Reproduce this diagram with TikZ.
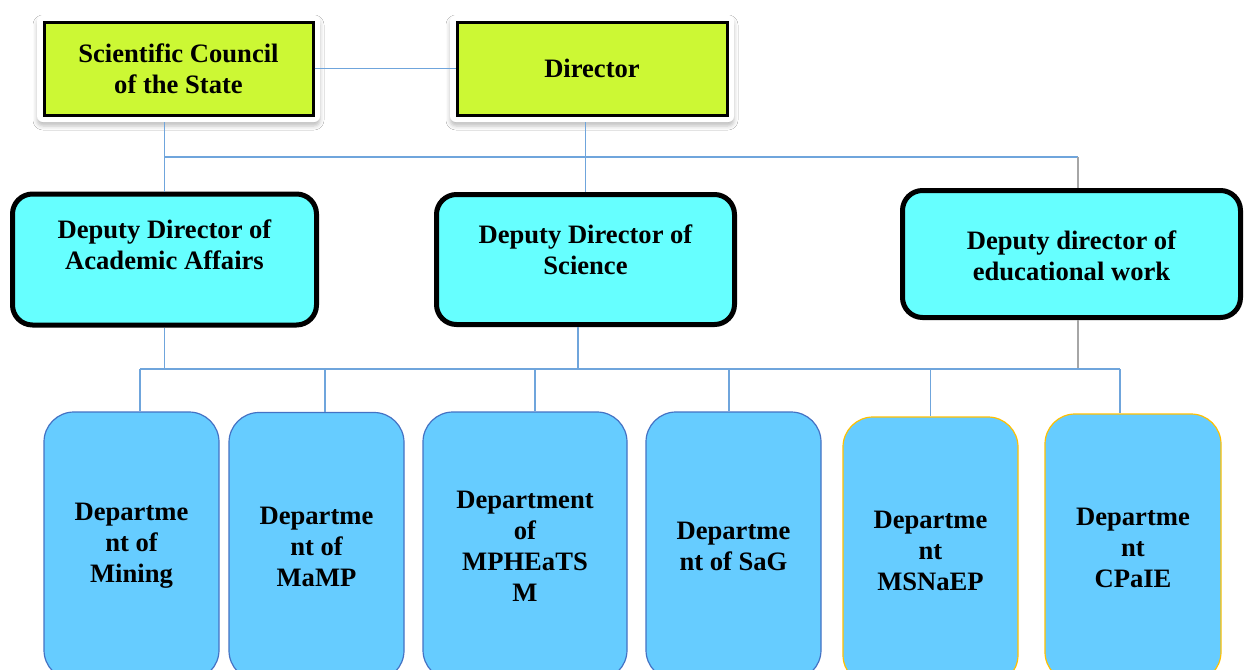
\documentclass[tikz,border=0pt]{standalone}
\usepackage{fontspec}
\setmainfont{Liberation Serif}
\usepackage{xcolor}
\usepackage{tikz}
\usetikzlibrary{shapes,arrows,positioning}
\usetikzlibrary{fit}
\usetikzlibrary{calc}
\usetikzlibrary{backgrounds,shadows.blur}
\definecolor{boardgreen}{RGB}{204,248,52}
\definecolor{deputycyan}{RGB}{102,255,255}
\definecolor{deptblue}{RGB}{102,204,255}
\definecolor{deptedge}{RGB}{68,114,196}
\definecolor{deptgold}{RGB}{255,192,0}
\definecolor{linkblue}{RGB}{111,165,220}
\definecolor{linkgrey}{RGB}{166,166,166}
\tikzstyle{head} = [rectangle, draw=black, line width=1.5pt, fill=boardgreen,
    minimum width=134.5pt, minimum height=46.5pt, align=center,
    font=\fontsize{13.3}{15.5}\selectfont\bfseries]
\tikzstyle{headframe} = [rectangle, fill=white, rounded corners=3pt, inner sep=2.75pt,
    blur shadow={shadow xshift=0pt, shadow yshift=-2pt, shadow blur radius=2pt, shadow opacity=25}]
\tikzstyle{deputy} = [rectangle, draw=black, line width=2.5pt, fill=deputycyan,
    rounded corners=10pt]
\tikzstyle{deputytext} = [align=center, font=\fontsize{13.3}{15.5}\selectfont\bfseries]
\tikzstyle{dept} = [rectangle, draw=deptedge, line width=0.6pt, fill=deptblue,
    rounded corners=15pt, minimum width=87.5pt, minimum height=134pt, align=center,
    font=\fontsize{13.3}{15.5}\selectfont\bfseries]
\tikzstyle{line} = [draw, linkblue, line width=0.75pt]

\begin{document}
\begin{tikzpicture}[x=0.5pt, y=-0.5pt]
        \useasboundingbox (0,0) rectangle (1244,670);
        \clip (0,0) rectangle (1244,670);

        % Top level
        \node [head] (council) at (178.5,68.5) {Scientific Council\\of the State};
        \node [head, minimum width=135pt] (director) at (592,68.5) {Director};
        \begin{scope}[on background layer]
            \fill [white] (0,0) rectangle (1244,670);
            \node [headframe, fit=(council)] (councilframe) {};
            \node [headframe, fit=(director)] (directorframe) {};
        \end{scope}

        % Deputies
        \node [deputy, minimum width=152pt, minimum height=65.5pt,
            label={[deputytext, name=academictext, yshift=7.5pt]center:Deputy Director of\\Academic Affairs}] (academic) at (164.5,259.5) {};
        \node [deputy, minimum width=149pt, minimum height=65pt,
            label={[deputytext, name=sciencetext, yshift=5pt]center:Deputy Director of\\Science}] (science) at (585.5,259.5) {};
        \node [deputy, minimum width=169pt, minimum height=63.5pt,
            label={[deputytext, name=educationtext, yshift=-1pt]center:Deputy director of\\educational work}] (education) at (1071.5,254) {};

        % Departments
        \node [dept] (mining) at (131.5,546) {Departme\\nt of\\Mining};
        \node [dept] (mamp) at (316.5,546.5) {Departme\\nt of\\MaMP};
        \node [dept, minimum width=102pt] (mpheatsm) at (525,546) {Department\\of\\MPHEaTS\\M};
        \node [dept] (sag) at (733.5,546) {Departme\\nt of SaG};
        \node [dept, draw=deptgold] (msnaep) at (930.5,551) {Departme\\nt\\MSNaEP};
        \node [dept, draw=deptgold, minimum width=88pt] (cpaie) at (1133,548) {Departme\\nt\\CPaIE};

        % Connections
        \coordinate (upperbus) at (0,157);
        \coordinate (lowerbus) at (0,369);
        \coordinate (eduhead) at ([xshift=3.25pt]education.north);
        \coordinate (edufoot) at ([xshift=3.25pt]education.south);
        \coordinate (scifoot) at ([xshift=-3.75pt]science.south);
        \path [line] (council.east) -- (director.west);
        \path [line] (councilframe.south -| academic.north) -- (academic.north);
        \path [line] (directorframe.south -| science.north) -- (science.north);
        \path [line] (upperbus -| academic.north) -- (upperbus -| eduhead);
        \path [line, linkgrey] (upperbus -| eduhead) -- (eduhead);
        \path [line] (academic.south) -- (academic.south |- lowerbus);
        \path [line] (scifoot) -- (scifoot |- lowerbus);
        \path [line, linkgrey] (edufoot) -- (edufoot |- lowerbus);
        \foreach \dep/\shift in {mining/4.25pt, mamp/4.25pt, mpheatsm/5pt, sag/-2.25pt, msnaep/0pt, cpaie/-6.5pt} {
            \coordinate (drop\dep) at ([xshift=\shift]\dep.north);
            \path [line] (drop\dep |- lowerbus) -- (drop\dep);
        }
        \path [line] (dropmining |- lowerbus) -- (dropcpaie |- lowerbus);
    \end{tikzpicture}
\end{document}
